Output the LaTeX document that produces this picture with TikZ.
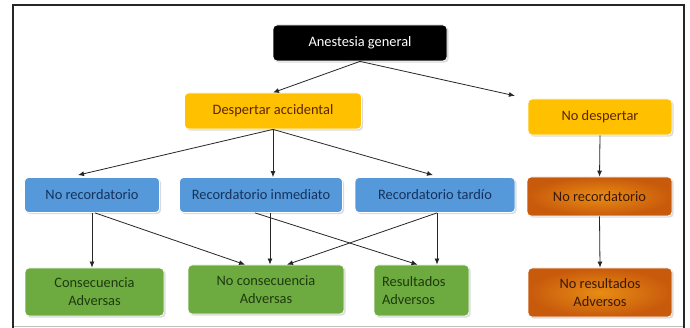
\documentclass[tikz,border=0pt]{standalone}
\usepackage{fontspec}
\setmainfont{Carlito}
\usetikzlibrary{arrows.meta,calc,shadows}
\definecolor{cyel}{HTML}{FFC000}
\definecolor{cblue}{HTML}{5599DA}
\definecolor{cgreen}{HTML}{6DAA3F}
\definecolor{corange}{HTML}{E2701A}
\definecolor{corangedk}{HTML}{C85A0C}
\definecolor{tyel}{HTML}{5A2600}
\definecolor{tblue}{HTML}{16325C}
\definecolor{tgreen}{HTML}{1E3A0E}
\definecolor{torange}{HTML}{3A1804}
\definecolor{frame}{HTML}{262626}
\tikzset{
  box/.style={rounded corners=4pt, draw=white, line width=0.8pt, inner sep=0pt,
    font=\fontsize{14.4}{18}\selectfont, align=center,
    drop shadow={opacity=0.28, shadow xshift=1.6pt, shadow yshift=-1.6pt}},
  blackbox/.style={box, fill=black, text=white},
  yelbox/.style={box, fill=cyel, text=tyel},
  bluebox/.style={box, fill=cblue, text=tblue},
  greenbox/.style={box, fill=cgreen, text=tgreen},
  orangebox/.style={box, inner color=corange!80!yellow, outer color=corangedk, text=torange},
  conn/.style={draw=black!85, line width=0.8pt, -{Latex[length=6pt,width=5pt]}},
}
\begin{document}
\begin{tikzpicture}[x=1pt,y=-1pt]
\useasboundingbox (0,0) rectangle (690,328);
\fill[white] (0,0) rectangle (690,328);
% frame
\draw[black!25, line width=1pt] (13,326.5) -- (684,326.5);
\draw[frame, line width=2pt] (13,328) -- (13,5) -- (684,5) -- (684,328);

% nodes
\node[blackbox, minimum width=174pt, minimum height=36pt] (ag) at (360,43) {Anestesia general};
\node[yelbox, minimum width=177pt, minimum height=36pt] (da) at (273,111) {Despertar accidental};
\node[yelbox, minimum width=144pt, minimum height=36pt] (nd) at (600,117) {No despertar};

\node[bluebox, minimum width=135pt, minimum height=35pt] (nr1) at (92,195) {No recordatorio};
\node[bluebox, minimum width=163pt, minimum height=35pt] (ri) at (261,195) {Recordatorio inmediato};
\node[bluebox, minimum width=160pt, minimum height=35pt] (rt) at (435,195) {Recordatorio tardío};
\node[orangebox, minimum width=145pt, minimum height=39pt] (nr2) at (599.5,196.5) {No recordatorio};

\node[greenbox, minimum width=139pt, minimum height=48pt] (ca) at (94.5,292) {Consecuencia\\Adversas};
\node[greenbox, minimum width=156pt, minimum height=49pt] (nc) at (266,289.5) {No consecuencia\\Adversas};
\node[greenbox, minimum width=95pt, minimum height=51pt, align=left, text width=79pt] (ra) at (421.5,290.5) {Resultados\\Adversos};
\node[orangebox, minimum width=144pt, minimum height=49pt] (nra) at (600,292.5) {No resultados\\Adversos};

% connectors
\draw[conn] (ag.south) -- (da.north);
\draw[conn, shorten >=13pt] (ag.south) -- (nd.north west);
\draw[conn] (da.south) -- ($(nr1.north)+(-14,-2)$);
\draw[conn] (da.south) -- (da.south |- ri.north);
\draw[conn] (da.south) -- ($(rt.north)+(-2,-2)$);
\draw[conn] (nr1.south) -- (nr1.south |- ca.north);
\draw[conn] ($(nr1.south)+(3,0)$) -- ($(nc.north)+(-21,0)$);
\draw[conn] ($(nc.north |- ri.south)+(4,0)$) -- ($(nc.north)+(4,0)$);
\draw[conn] ($(ri.south)+(-6,0)$) -- ($(ra.north)+(-4,0)$);
\draw[conn] ($(rt.south)+(2,0)$) -- ($(nc.north)+(21,0)$);
\draw[conn] ($(rt.south)+(2,0)$) -- ($(rt.south |- ra.north)+(2,0)$);
\draw[conn] (nd.south) -- (nr2.north);
\draw[conn] (nr2.south) -- (nra.north);
\end{tikzpicture}
\end{document}
